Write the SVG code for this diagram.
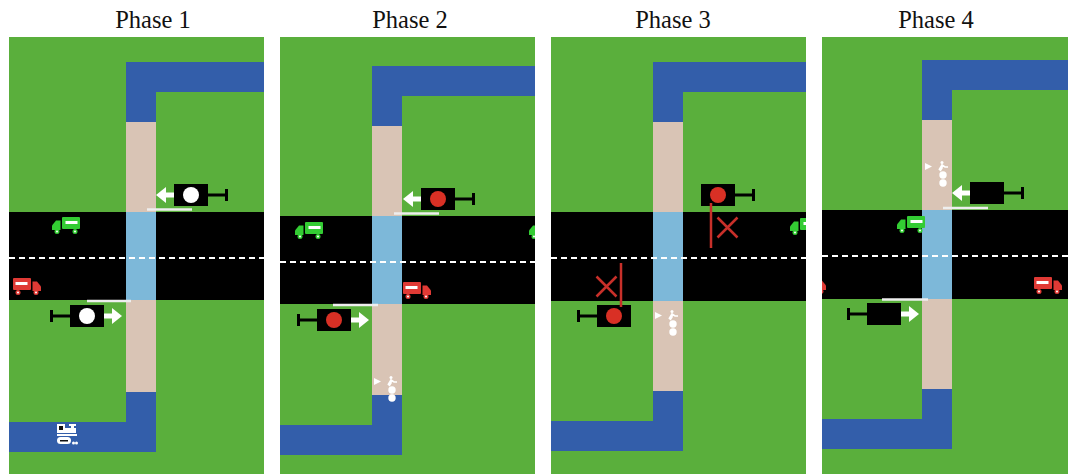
<svg xmlns="http://www.w3.org/2000/svg" xmlns:xlink="http://www.w3.org/1999/xlink" width="1068" height="474" viewBox="0 0 1068 474">
  <style>
    .title { font-family: "Liberation Serif", "Times New Roman", serif; font-size: 24.5px; fill: #111; text-anchor: middle; }
    .grass { fill: #5aaf3c; }
    .water { fill: #335eaa; }
    .path { fill: #d9c4b5; }
    .road { fill: #000; }
    .cross { fill: #7db8d9; }
    .dash { stroke: #fff; stroke-width: 2; stroke-dasharray: 6 4; fill: none; }
    .stop { stroke: #eeeeee; stroke-width: 2.5; fill: none; }
    .bar { stroke: #c8302a; stroke-width: 2.5; fill: none; }
  </style>
  <defs>
    <!-- signal head: box with post to the right, origin at box top-left -->
    <g id="signal">
      <rect x="0" y="0" width="34" height="22" fill="#000"/>
      <rect x="34" y="9.5" width="18" height="3" fill="#000"/>
      <rect x="51" y="5" width="3" height="12" fill="#000"/>
    </g>
    <!-- white direction arrow pointing left, tip at x=-17 -->
    <g id="arrow" fill="#fff">
      <polygon points="-18,11 -8,3 -8,19"/>
      <rect x="-9" y="8.5" width="9" height="5"/>
    </g>
    <!-- truck facing right -->
    <g id="truck">
      <rect x="0" y="0" width="18" height="12" rx="1"/>
      <rect x="2.5" y="4" width="12" height="3" fill="#fff"/>
      <path d="M19.5 3.5 h4.5 l4 5 v4.5 h-8.5 z"/>
      <circle cx="5" cy="14.5" r="2.5"/>
      <circle cx="23" cy="14.5" r="2.5"/>
      <circle cx="5" cy="14.5" r="1" fill="#fff"/>
      <circle cx="23" cy="14.5" r="1" fill="#fff"/>
    </g>
    <!-- pedestrian crossing marker -->
    <g id="ped" fill="#fff">
      <polygon points="0,2 0,9 7,5.5"/>
      <circle cx="17" cy="1.5" r="1.5"/>
      <path d="M14 9 l3 -5 l3 2 h3 M17 4 v3 l-2 3" stroke="#fff" stroke-width="1.6" fill="none"/>
      <circle cx="18" cy="14" r="3.7"/>
      <circle cx="18" cy="22" r="3.7"/>
    </g>
    <clipPath id="c1"><rect x="9" y="37" width="255" height="437"/></clipPath>
    <clipPath id="c2"><rect x="280" y="37" width="255" height="437"/></clipPath>
    <clipPath id="c3"><rect x="551" y="37" width="255" height="437"/></clipPath>
    <clipPath id="c4"><rect x="822" y="37" width="246" height="437"/></clipPath>
  </defs>

  <!-- titles -->
  <text class="title" x="153" y="28">Phase 1</text>
  <text class="title" x="410" y="28">Phase 2</text>
  <text class="title" x="673" y="28">Phase 3</text>
  <text class="title" x="936" y="28">Phase 4</text>

  <!-- Phase 1 -->
  <g id="phase1" clip-path="url(#c1)">
    <rect class="grass" x="9" y="37" width="255" height="437"/>
    <path class="water" d="M126 62 H264 V92 H156 V122 H126 Z"/>
    <rect class="path" x="126" y="122" width="30" height="270"/>
    <path class="water" d="M126 392 H156 V452 H9 V422 H126 Z"/>
    <rect class="road" x="9" y="212" width="255" height="88"/>
    <rect class="cross" x="126" y="212" width="30" height="88"/>
    <line class="dash" x1="9" y1="258" x2="264" y2="258"/>
    <line class="stop" x1="147" y1="209.5" x2="192" y2="209.5"/>
    <line class="stop" x1="87" y1="301" x2="131" y2="301"/>
    <g id="p1-signal-top" transform="translate(174,184)">
      <use xlink:href="#signal"/>
      <circle cx="17" cy="11" r="8" fill="#fff"/>
      <use xlink:href="#arrow"/>
    </g>
    <g id="p1-signal-bottom" transform="translate(104,305) scale(-1,1)">
      <use xlink:href="#signal"/>
      <circle cx="17" cy="11" r="8" fill="#fff"/>
      <use xlink:href="#arrow"/>
    </g>
    <use xlink:href="#truck" fill="#33cc33" transform="translate(80,217) scale(-1,1)"/>
    <use xlink:href="#truck" fill="#e03a35" transform="translate(13,278)"/>
    <g id="p1-train" fill="#fff">
      <rect x="57" y="424" width="8" height="9"/>
      <rect x="59" y="426" width="4" height="4" fill="#111"/>
      <rect x="65" y="428" width="11" height="5"/>
      <rect x="71" y="425" width="3" height="4"/>
      <rect x="69" y="424" width="7" height="2"/>
      <rect x="57" y="434" width="20" height="2"/>
      <rect x="57" y="437" width="14" height="7" rx="3.5"/>
      <rect x="60" y="440" width="8" height="1.5" fill="#111"/>
      <circle cx="73.5" cy="443" r="1.5"/>
      <circle cx="76.5" cy="443" r="1.5"/>
    </g>
  </g>

  <!-- Phase 2 -->
  <g id="phase2" clip-path="url(#c2)">
    <rect class="grass" x="280" y="37" width="255" height="437"/>
    <path class="water" d="M372 66 H535 V96 H402 V126 H372 Z"/>
    <rect class="path" x="372" y="126" width="30" height="269"/>
    <path class="water" d="M372 395 H402 V455 H280 V425 H372 Z"/>
    <rect class="road" x="280" y="216" width="255" height="88"/>
    <rect class="cross" x="372" y="216" width="30" height="88"/>
    <line class="dash" x1="280" y1="262" x2="535" y2="262"/>
    <line class="stop" x1="394" y1="213.5" x2="439" y2="213.5"/>
    <line class="stop" x1="333" y1="305" x2="378" y2="305"/>
    <g id="p2-signal-top" transform="translate(421,188)">
      <use xlink:href="#signal"/>
      <circle cx="17" cy="11" r="8" fill="#d93025"/>
      <use xlink:href="#arrow"/>
    </g>
    <g id="p2-signal-bottom" transform="translate(351,309) scale(-1,1)">
      <use xlink:href="#signal"/>
      <circle cx="17" cy="11" r="8" fill="#d93025"/>
      <use xlink:href="#arrow"/>
    </g>
    <use xlink:href="#truck" fill="#33cc33" transform="translate(323,222) scale(-1,1)"/>
    <use xlink:href="#truck" fill="#33cc33" transform="translate(557,222) scale(-1,1)"/>
    <use xlink:href="#truck" fill="#e03a35" transform="translate(403,282)"/>
    <use xlink:href="#ped" transform="translate(374,376)"/>
  </g>

  <!-- Phase 3 -->
  <g id="phase3" clip-path="url(#c3)">
    <rect class="grass" x="551" y="37" width="255" height="437"/>
    <path class="water" d="M653 62 H806 V92 H683 V122 H653 Z"/>
    <rect class="path" x="653" y="122" width="30" height="269"/>
    <path class="water" d="M653 391 H683 V451 H551 V421 H653 Z"/>
    <rect class="road" x="551" y="212" width="255" height="89"/>
    <rect class="cross" x="653" y="212" width="30" height="89"/>
    <line class="dash" x1="551" y1="258" x2="806" y2="258"/>
    <g id="p3-signal-top" transform="translate(701,184)">
      <use xlink:href="#signal"/>
      <circle cx="17" cy="11" r="8" fill="#d93025"/>
    </g>
    <line class="bar" x1="711" y1="203" x2="711" y2="248"/>
    <path class="bar" d="M717.5 217.5 L737.5 237.5 M737.5 217.5 L717.5 237.5"/>
    <g id="p3-signal-bottom" transform="translate(631,305) scale(-1,1)">
      <use xlink:href="#signal"/>
      <circle cx="17" cy="11" r="8" fill="#d93025"/>
    </g>
    <line class="bar" x1="621" y1="263" x2="621" y2="307"/>
    <path class="bar" d="M596.5 276.5 L616.5 296.5 M616.5 276.5 L596.5 296.5"/>
    <use xlink:href="#truck" fill="#33cc33" transform="translate(818,218) scale(-1,1)"/>
    <use xlink:href="#ped" transform="translate(655,310)"/>
  </g>

  <!-- Phase 4 -->
  <g id="phase4" clip-path="url(#c4)">
    <rect class="grass" x="822" y="37" width="246" height="437"/>
    <path class="water" d="M922 60 H1068 V90 H952 V120 H922 Z"/>
    <rect class="path" x="922" y="120" width="30" height="269"/>
    <path class="water" d="M922 389 H952 V449 H822 V419 H922 Z"/>
    <rect class="road" x="822" y="210" width="246" height="89"/>
    <rect class="cross" x="922" y="210" width="30" height="89"/>
    <line class="dash" x1="822" y1="256" x2="1068" y2="256"/>
    <line class="stop" x1="943" y1="208" x2="988" y2="208"/>
    <line class="stop" x1="882" y1="299.5" x2="928" y2="299.5"/>
    <g id="p4-signal-top" transform="translate(970,182)">
      <use xlink:href="#signal"/>
      <use xlink:href="#arrow"/>
    </g>
    <g id="p4-signal-bottom" transform="translate(901,303) scale(-1,1)">
      <use xlink:href="#signal"/>
      <use xlink:href="#arrow"/>
    </g>
    <use xlink:href="#truck" fill="#33cc33" transform="translate(925,216) scale(-1,1)"/>
    <use xlink:href="#truck" fill="#e03a35" transform="translate(1034,277)"/>
    <use xlink:href="#truck" fill="#e03a35" transform="translate(798,277)"/>
    <use xlink:href="#ped" transform="translate(925,161)"/>
  </g>
</svg>
